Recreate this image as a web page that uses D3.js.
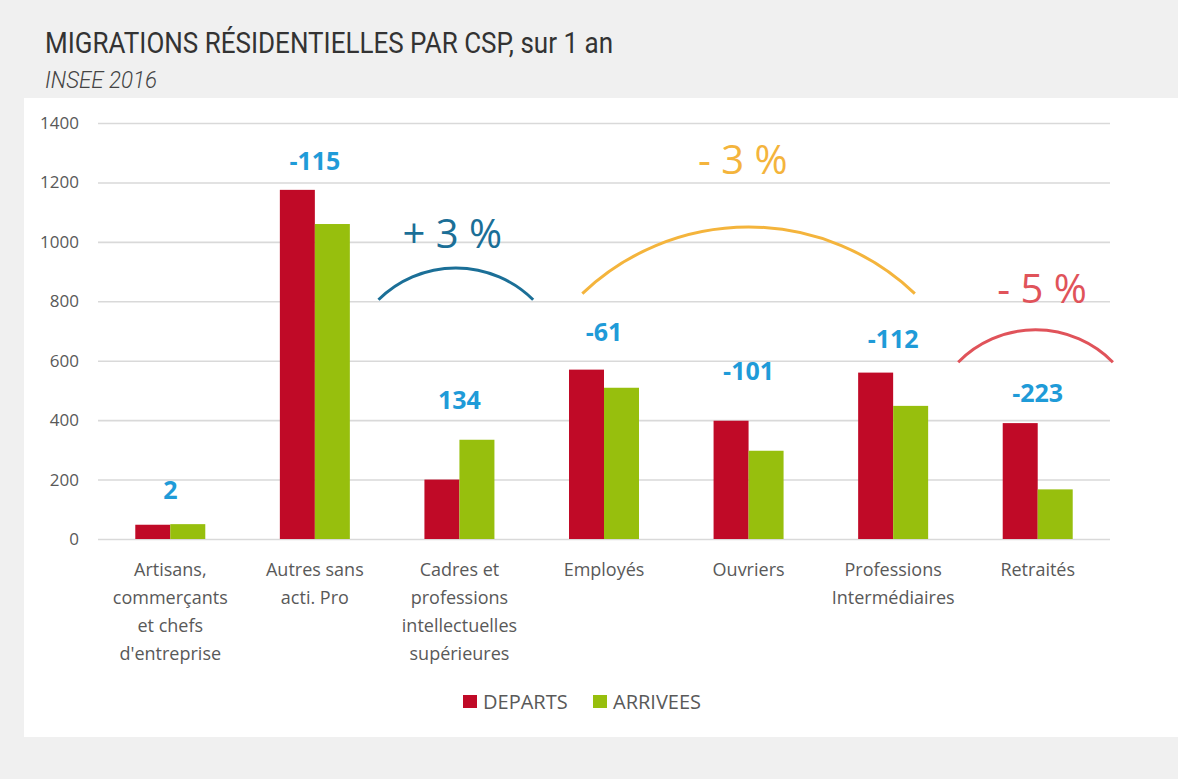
<!DOCTYPE html>
<html>
<head>
<meta charset="utf-8">
<script src="https://cdn.jsdelivr.net/npm/d3@7"></script>
<style>
  html, body { margin: 0; padding: 0; background: #f0f0f0; }
  svg { display: block; }
</style>
</head>
<body>
<svg id="chart" width="1178" height="779"></svg>
<script>
// categories (line breaks as in the original axis)
const categories = [
  "Artisans,\ncommerçants\net chefs\nd'entreprise",
  "Autres sans\nacti. Pro",
  "Cadres et\nprofessions\nintellectuelles\nsupérieures",
  "Employés",
  "Ouvriers",
  "Professions\nIntermédiaires",
  "Retraités"
]
const series = ["DEPARTS", "ARRIVEES"]
const departs  = [48, 1175, 200, 570, 398, 560, 390]
const arrivees = [50, 1060, 334, 509, 297, 448, 167]
const yTicks = [0, 200, 400, 600, 800, 1000, 1200, 1400]

// trend annotations, in category units (0..7) and axis values
const trendLabels = ["+ 3 %", "- 3 %", "- 5 %"]
const trendFrom   = [1.94, 3.35, 5.95]
const trendTo     = [3.01, 5.65, 7.02]
const trendBase   = [805, 826, 595]
const trendPeak   = [912, 1050, 704]
const trendTextAt = [2.45, 4.46, 6.53]
const trendTextY  = [980, 1229, 795]

const colors = {DEPARTS: '#c00a27', ARRIVEES: '#97bf0d'}
const trendColors = ['#1b6f97', '#f4b43c', '#e0535a']
// small per-label lift (px) for the difference labels
const labelLift = [0, -5, 6, 4, 16, 0, -4]

const svg = d3.select('#chart')
const plot = {left: 98, right: 1110, top: 123, bottom: 539}

svg.append('rect').attr('x', 24).attr('y', 98).attr('width', 1154).attr('height', 639).attr('fill', '#fff')

svg.append('text').attr('x', 45).attr('y', 53)
  .attr('textLength', 568).attr('lengthAdjust', 'spacingAndGlyphs')
  .style('font', '400 29px Roboto, sans-serif').attr('fill', '#333')
  .text('MIGRATIONS RÉSIDENTIELLES PAR CSP, sur 1 an')
svg.append('text').attr('x', 45).attr('y', 88)
  .attr('textLength', 112).attr('lengthAdjust', 'spacingAndGlyphs')
  .style('font', 'italic 300 23px Roboto, sans-serif').attr('fill', '#444')
  .text('INSEE 2016')

const x = d3.scaleBand().domain(categories).range([plot.left, plot.right])
const xSub = d3.scaleBand().domain(series).range([0, 70])
const xi = d3.scaleLinear().domain([0, 7]).range([plot.left, plot.right])
const y = d3.scaleLinear().domain([0, 1400]).range([plot.bottom, plot.top])

// y axis + gridlines
const yAxis = svg.append('g').attr('transform', `translate(${plot.left},0)`)
  .call(d3.axisLeft(y).tickValues(yTicks).tickFormat(d3.format('d'))
    .tickSize(-(plot.right - plot.left)).tickPadding(19))
yAxis.select('.domain').remove()
yAxis.selectAll('line').attr('stroke', '#d9d9d9').attr('stroke-width', 1.6)
yAxis.selectAll('text').style('font', '17px "Open Sans", sans-serif').attr('fill', '#595959')

// x axis labels
const xAxis = svg.append('g').attr('transform', `translate(0,${plot.bottom})`)
  .call(d3.axisBottom(x).tickSize(0).tickFormat(''))
xAxis.select('.domain').remove()
xAxis.selectAll('.tick').each(function(d) {
  const t = d3.select(this).append('text').attr('fill', '#595959')
    .style('font', '18px "Open Sans", sans-serif').attr('text-anchor', 'middle')
  d.split('\n').forEach((line, i) => {
    t.append('tspan').attr('x', 0).attr('y', 37 + i * 28).text(line)
  })
})

// bars
const rows = categories.map((c, i) => ({cat: c, DEPARTS: departs[i], ARRIVEES: arrivees[i]}))
const groups = svg.append('g').selectAll('g').data(rows).join('g')
  .attr('transform', d => `translate(${x(d.cat) + (x.bandwidth() - 70) / 2},0)`)
groups.selectAll('rect').data(d => series.map(s => ({s, v: d[s]}))).join('rect')
  .attr('x', d => xSub(d.s)).attr('width', xSub.bandwidth())
  .attr('y', d => y(d.v)).attr('height', d => y(0) - y(d.v))
  .attr('fill', d => colors[d.s])

// difference labels
svg.append('g').selectAll('text').data(rows).join('text')
  .attr('x', d => x(d.cat) + x.bandwidth() / 2)
  .attr('y', (d, i) => y(Math.max(d.DEPARTS, d.ARRIVEES)) - 25 - labelLift[i])
  .attr('text-anchor', 'middle').attr('fill', '#1f9bd8')
  .style('font', '700 25px "Open Sans", sans-serif')
  .text(d => d.ARRIVEES - d.DEPARTS)

// trend arcs
function circleArc(p1, p2, p3) {
  const ax = p1[0], ay = p1[1], bx = p2[0], by = p2[1], cx = p3[0], cy = p3[1]
  const dd = 2 * (ax * (by - cy) + bx * (cy - ay) + cx * (ay - by))
  const ux = ((ax*ax + ay*ay) * (by - cy) + (bx*bx + by*by) * (cy - ay) + (cx*cx + cy*cy) * (ay - by)) / dd
  const uy = ((ax*ax + ay*ay) * (cx - bx) + (bx*bx + by*by) * (ax - cx) + (cx*cx + cy*cy) * (bx - ax)) / dd
  const r = Math.hypot(ax - ux, ay - uy)
  return `M${ax},${ay}A${r},${r} 0 0 1 ${cx},${cy}`
}
const trends = trendLabels.map((label, i) => ({label, i}))
const tg = svg.append('g').selectAll('g').data(trends).join('g')
tg.append('path')
  .attr('d', d => {
    const i = d.i
    const a = xi(trendFrom[i]), b = xi(trendTo[i])
    return circleArc([a, y(trendBase[i])], [(a + b) / 2, y(trendPeak[i])], [b, y(trendBase[i])])
  })
  .attr('fill', 'none').attr('stroke', d => trendColors[d.i]).attr('stroke-width', 3)
tg.append('text')
  .attr('x', d => xi(trendTextAt[d.i])).attr('y', d => y(trendTextY[d.i]))
  .attr('text-anchor', 'middle').attr('fill', d => trendColors[d.i])
  .style('font', '400 40px "Open Sans", sans-serif')
  .text(d => d.label)

// legend
const legend = svg.append('g').selectAll('g').data(series).join('g')
  .attr('transform', (d, i) => `translate(${463 + i * 130},695)`)
legend.append('rect').attr('width', 14).attr('height', 13).attr('fill', d => colors[d])
legend.append('text').attr('x', 20).attr('y', 13.5)
  .style('font', '20px "Open Sans", sans-serif').attr('fill', '#595959')
  .text(d => d)
</script>
</body>
</html>
